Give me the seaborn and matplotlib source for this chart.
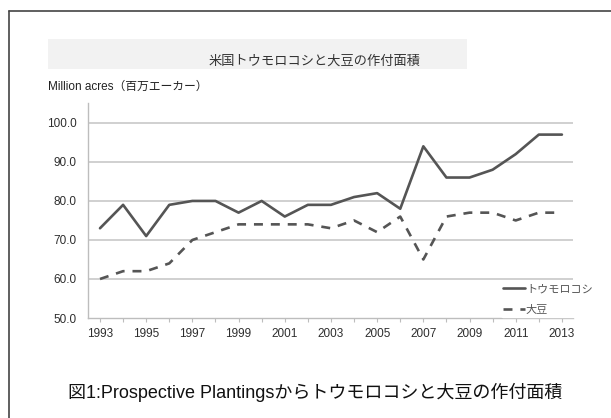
import matplotlib
matplotlib.use("Agg")
import matplotlib.pyplot as plt
from matplotlib.patches import Rectangle
from matplotlib.lines import Line2D
import seaborn as sns
import pandas as pd

# Planted acreage, million acres
years = list(range(1993, 2014))
corn = [73, 79, 71, 79, 80, 80, 77, 80, 76, 79, 79, 81, 82, 78, 94, 86, 86, 88, 92, 97, 97]
soy = [60, 62, 62, 64, 70, 72, 74, 74, 74, 74, 73, 75, 72, 76, 65, 76, 77, 77, 75, 77, 77]
series_names = ["トウモロコシ", "大豆"]
y_ticks = [50, 60, 70, 80, 90, 100]
x_ticks = list(range(1993, 2014, 2))

title = "米国トウモロコシと大豆の作付面積"
unit_label = "Million acres（百万エーカー）"
caption = "図1:Prospective Plantingsからトウモロコシと大豆の作付面積"

df = pd.DataFrame({
    "year": years * 2,
    "acres": corn + soy,
    "crop": [series_names[0]] * len(years) + [series_names[1]] * len(years),
})

sns.set_theme(style="white")
plt.rcParams["font.family"] = ["Liberation Sans", "Noto Sans CJK JP", "DejaVu Sans"]

fig = plt.figure(figsize=(6.11, 4.18), dpi=100)
fig.patch.set_facecolor("white")
ax = fig.add_axes([0.1440, 0.2392, 0.7938, 0.5144])

line_color = "#555555"
sns.lineplot(
    data=df, x="year", y="acres", style="crop",
    dashes={series_names[0]: "", series_names[1]: (3.4, 3.0)},
    color=line_color, linewidth=1.9, ax=ax, legend=True,
)

ax.set_xlim(1992.48, 2013.48)
ax.set_ylim(50, 105.1)
ax.set_yticks(y_ticks)
ax.set_yticklabels([f"{v:.1f}" for v in y_ticks])
ax.set_xticks(x_ticks)
ax.set_xticklabels([str(v) for v in x_ticks])
ax.set_xticks(years, minor=True)
ax.set_xlabel("")
ax.set_ylabel("")

for v in y_ticks[1:]:
    ax.axhline(v, color="#c4c4c4", linewidth=1.1, zorder=0)

for side in ["top", "right"]:
    ax.spines[side].set_visible(False)
for side in ["left", "bottom"]:
    ax.spines[side].set_color("#bdbdbd")
    ax.spines[side].set_linewidth(1.0)

ax.tick_params(axis="y", length=0, labelsize=8.5, labelcolor="#2e2e2e", pad=8)
ax.tick_params(axis="x", which="both", direction="out", length=3, width=0.8,
               color="#bdbdbd", labelsize=8.5, labelcolor="#2e2e2e", pad=4, bottom=True)

handles, labels = ax.get_legend_handles_labels()
leg = ax.legend(
    handles, labels, loc="lower right", bbox_to_anchor=(1.045, 0.005),
    frameon=True, fontsize=8, handlelength=2.0, handletextpad=0.05,
    labelspacing=0.95, borderpad=0.2, borderaxespad=0.0,
)
leg.get_frame().set_facecolor("white")
leg.get_frame().set_edgecolor("white")
leg.get_frame().set_alpha(1.0)
for t in leg.get_texts():
    t.set_color("#555555")

# Title band
fig.patches.append(Rectangle((0.0786, 0.835), 0.686, 0.0718, transform=fig.transFigure,
                             facecolor="#f2f2f2", edgecolor="none", zorder=0))
fig.text(0.514, 0.854, title, ha="center", va="center", fontsize=9.5, color="#333333")
fig.text(0.0786, 0.792, unit_label, ha="left", va="center", fontsize=8.5, color="#222222")
fig.text(0.5155, 0.0622, caption, ha="center", va="center", fontsize=13, color="#111111")

# Outer frame (top and left edges)
fig.lines.append(Line2D([0.0147, 0.0147], [0.0, 0.9737], transform=fig.transFigure,
                        color="#444444", linewidth=1.2))
fig.lines.append(Line2D([0.0147, 1.0], [0.9737, 0.9737], transform=fig.transFigure,
                        color="#444444", linewidth=1.2))

fig.savefig("out.png", dpi=100)
